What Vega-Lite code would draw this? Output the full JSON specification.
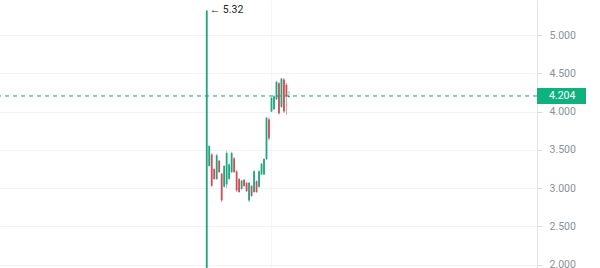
{
  "$schema": "https://vega.github.io/schema/vega-lite/v6.json",
  "width": 537,
  "height": 268,
  "autosize": "none",
  "padding": {"left": 0, "top": 0, "right": 63, "bottom": 0},
  "background": "white",
  "config": {"view": {"stroke": null}, "font": "Roboto"},
  "datasets": {
    "candles": [
      {"i": 0, "o": 1.6, "h": 5.32, "l": 1.6, "c": 5.32},
      {"i": 1, "o": 3.29, "h": 3.564, "l": 3.277, "c": 3.55},
      {"i": 2, "o": 3.44, "h": 3.46, "l": 3.016, "c": 3.03},
      {"i": 3, "o": 3.25, "h": 3.264, "l": 3.107, "c": 3.12},
      {"i": 4, "o": 3.12, "h": 3.446, "l": 3.107, "c": 3.43},
      {"i": 5, "o": 3.36, "h": 3.368, "l": 3.198, "c": 3.21},
      {"i": 6, "o": 3.19, "h": 3.198, "l": 2.82, "c": 2.84},
      {"i": 7, "o": 3.02, "h": 3.303, "l": 3.003, "c": 3.29},
      {"i": 8, "o": 3.05, "h": 3.486, "l": 3.003, "c": 3.46},
      {"i": 9, "o": 3.12, "h": 3.329, "l": 3.107, "c": 3.31},
      {"i": 10, "o": 3.21, "h": 3.473, "l": 3.198, "c": 3.46},
      {"i": 11, "o": 3.39, "h": 3.407, "l": 3.198, "c": 3.21},
      {"i": 12, "o": 3.22, "h": 3.238, "l": 2.95, "c": 2.97},
      {"i": 13, "o": 3.12, "h": 3.133, "l": 2.937, "c": 2.95},
      {"i": 14, "o": 2.99, "h": 3.107, "l": 2.976, "c": 3.1},
      {"i": 15, "o": 3.11, "h": 3.12, "l": 3.016, "c": 3.03},
      {"i": 16, "o": 3.07, "h": 3.081, "l": 2.95, "c": 2.96},
      {"i": 17, "o": 2.84, "h": 3.081, "l": 2.82, "c": 3.07},
      {"i": 18, "o": 3.03, "h": 3.042, "l": 2.885, "c": 2.9},
      {"i": 19, "o": 2.95, "h": 3.238, "l": 2.937, "c": 3.22},
      {"i": 20, "o": 3.09, "h": 3.107, "l": 2.937, "c": 2.95},
      {"i": 21, "o": 3.02, "h": 3.238, "l": 3.003, "c": 3.22},
      {"i": 22, "o": 3.18, "h": 3.329, "l": 3.172, "c": 3.32},
      {"i": 23, "o": 3.18, "h": 3.394, "l": 3.172, "c": 3.38},
      {"i": 24, "o": 3.38, "h": 3.93, "l": 3.368, "c": 3.92},
      {"i": 25, "o": 3.9, "h": 3.93, "l": 3.62, "c": 3.65},
      {"i": 26, "o": 4.0, "h": 4.191, "l": 3.995, "c": 4.18},
      {"i": 27, "o": 4.03, "h": 4.217, "l": 4.021, "c": 4.2},
      {"i": 28, "o": 4.16, "h": 4.399, "l": 4.151, "c": 4.39},
      {"i": 29, "o": 4.37, "h": 4.386, "l": 3.956, "c": 3.98},
      {"i": 30, "o": 4.06, "h": 4.439, "l": 4.047, "c": 4.43},
      {"i": 31, "o": 4.42, "h": 4.439, "l": 3.982, "c": 4.0},
      {"i": 32, "o": 4.35, "h": 4.373, "l": 3.956, "c": 4.2},
      {"i": 33, "o": 4.19, "h": 4.269, "l": 4.178, "c": 4.204}
    ]
  },
  "layer": [
    {
      "data": {"name": "candles"},
      "mark": {"type": "rule", "strokeWidth": 1, "opacity": 0.55, "clip": true},
      "encoding": {
        "x": {"field": "i", "type": "quantitative", "scale": {"domain": [-83, 132.6], "nice": false, "zero": false},
              "axis": {"values": [26], "grid": true, "gridColor": "#f4f5f7", "labels": false, "ticks": false, "domain": false, "title": null}},
        "y": {"field": "h", "type": "quantitative", "scale": {"domain": [1.958, 5.457], "nice": false, "zero": false},
              "axis": {"orient": "right", "values": [2, 2.5, 3, 3.5, 4, 4.5, 5], "format": ".3f", "title": null, "grid": true, "gridColor": "#f1f2f4", "domainColor": "#e3e5e8", "tickColor": "#d8dadd", "tickSize": 5, "labelPadding": 7, "labelColor": "#8b9099", "labelFontSize": 10.5, "labelFont": "Roboto"}},
        "y2": {"field": "l"},
        "color": {"condition": {"test": "datum.c >= datum.o", "value": "#20a57e"}, "value": "#c94f5a"}
      }
    },
    {
      "data": {"name": "candles"},
      "mark": {"type": "rule", "strokeWidth": 1.8, "clip": true},
      "encoding": {
        "x": {"field": "i", "type": "quantitative", "scale": {"domain": [-83, 132.6], "nice": false, "zero": false},
              "axis": {"values": [26], "grid": true, "gridColor": "#f4f5f7", "labels": false, "ticks": false, "domain": false, "title": null}},
        "y": {"field": "o", "type": "quantitative",
              "axis": {"orient": "right", "values": [2, 2.5, 3, 3.5, 4, 4.5, 5], "format": ".3f", "title": null, "grid": true, "gridColor": "#f1f2f4", "domainColor": "#e3e5e8", "tickColor": "#d8dadd", "tickSize": 5, "labelPadding": 7, "labelColor": "#8b9099", "labelFontSize": 10.5, "labelFont": "Roboto"}},
        "y2": {"field": "c"},
        "color": {"condition": {"test": "datum.c >= datum.o", "value": "#20a57e"}, "value": "#c94f5a"}
      }
    },
    {
      "data": {"values": [{"price": 4.204}]},
      "mark": {"type": "rule", "strokeDash": [4, 4], "strokeWidth": 1, "color": "#1f9a7a"},
      "encoding": {
        "y": {"field": "price", "type": "quantitative",
              "axis": {"orient": "right", "values": [2, 2.5, 3, 3.5, 4, 4.5, 5], "format": ".3f", "title": null, "grid": true, "gridColor": "#f1f2f4", "domainColor": "#e3e5e8", "tickColor": "#d8dadd", "tickSize": 5, "labelPadding": 7, "labelColor": "#8b9099", "labelFontSize": 10.5, "labelFont": "Roboto"}}
      }
    },
    {
      "data": {"values": [{"price": 4.204}]},
      "mark": {"type": "rect", "color": "#0fb27f", "yOffset": -8, "y2Offset": 8, "x2Offset": 49},
      "encoding": {
        "x": {"value": "width"},
        "x2": {"value": "width"},
        "y": {"field": "price", "type": "quantitative",
              "axis": {"orient": "right", "values": [2, 2.5, 3, 3.5, 4, 4.5, 5], "format": ".3f", "title": null, "grid": true, "gridColor": "#f1f2f4", "domainColor": "#e3e5e8", "tickColor": "#d8dadd", "tickSize": 5, "labelPadding": 7, "labelColor": "#8b9099", "labelFontSize": 10.5, "labelFont": "Roboto"}},
        "y2": {"field": "price"}
      }
    },
    {
      "data": {"values": [{"price": 4.204, "t": "4.204"}]},
      "mark": {"type": "text", "color": "white", "align": "left", "baseline": "middle", "dx": 12, "fontSize": 10.5, "font": "Roboto"},
      "encoding": {
        "x": {"value": "width"},
        "y": {"field": "price", "type": "quantitative",
              "axis": {"orient": "right", "values": [2, 2.5, 3, 3.5, 4, 4.5, 5], "format": ".3f", "title": null, "grid": true, "gridColor": "#f1f2f4", "domainColor": "#e3e5e8", "tickColor": "#d8dadd", "tickSize": 5, "labelPadding": 7, "labelColor": "#8b9099", "labelFontSize": 10.5, "labelFont": "Roboto"}},
        "text": {"field": "t"}
      }
    },
    {
      "data": {"values": [{"i": 0, "p": 5.32, "t": "← 5.32"}]},
      "mark": {"type": "text", "color": "#1e2329", "align": "left", "baseline": "middle", "dx": 3, "fontSize": 10.5, "font": "Roboto"},
      "encoding": {
        "x": {"field": "i", "type": "quantitative",
              "axis": {"values": [26], "grid": true, "gridColor": "#f4f5f7", "labels": false, "ticks": false, "domain": false, "title": null}},
        "y": {"field": "p", "type": "quantitative",
              "axis": {"orient": "right", "values": [2, 2.5, 3, 3.5, 4, 4.5, 5], "format": ".3f", "title": null, "grid": true, "gridColor": "#f1f2f4", "domainColor": "#e3e5e8", "tickColor": "#d8dadd", "tickSize": 5, "labelPadding": 7, "labelColor": "#8b9099", "labelFontSize": 10.5, "labelFont": "Roboto"}},
        "text": {"field": "t"}
      }
    }
  ]
}
